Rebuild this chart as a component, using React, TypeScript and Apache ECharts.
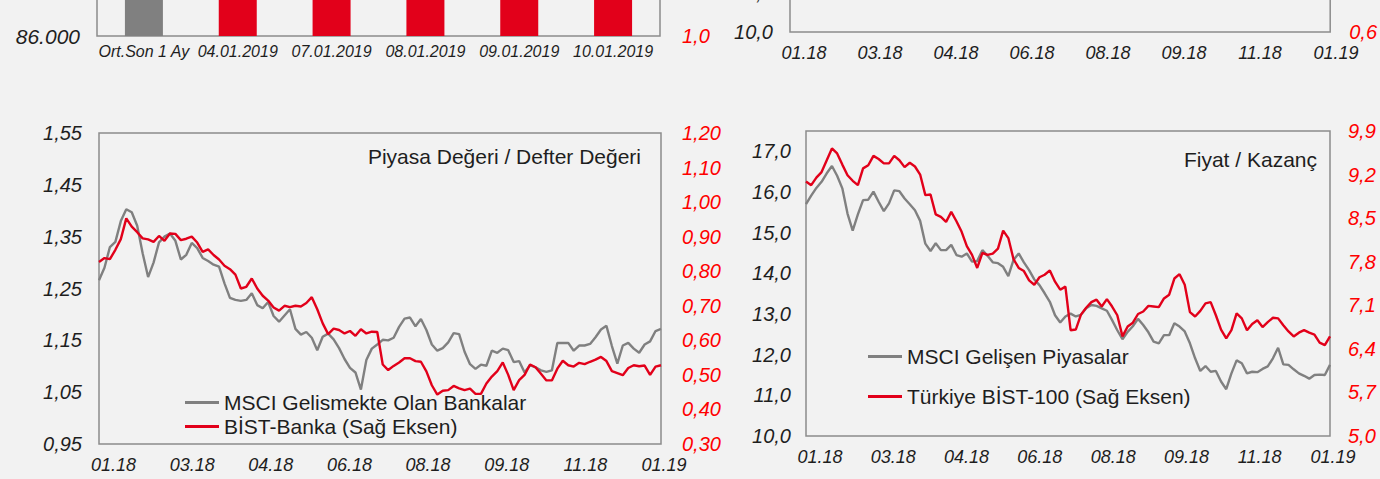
import React, { useEffect, useRef } from 'react';
import * as echarts from 'echarts';

// ---- data ----
const barCategories = ['Ort.Son 1 Ay', '04.01.2019', '07.01.2019', '08.01.2019', '09.01.2019', '10.01.2019'];
const barValues = [89200, 88300, 89500, 90900, 91400, 91900];

const monthTickLabels = ['01.18', '03.18', '04.18', '06.18', '08.18', '09.18', '11.18', '01.19'];

const msciBanksName = 'MSCI Gelismekte Olan Bankalar';
const bistBankName = 'BİST-Banka (Sağ Eksen)';
const msciEmName = 'MSCI Gelişen Piyasalar';
const bist100Name = 'Türkiye BİST-100 (Sağ Eksen)';

const msciBanks = [
  1.266, 1.29, 1.33, 1.34, 1.38, 1.403, 1.397, 1.371, 1.318, 1.272,
  1.30, 1.339, 1.35, 1.356, 1.342, 1.306, 1.315, 1.338, 1.328, 1.309,
  1.303, 1.296, 1.292, 1.26, 1.232, 1.228, 1.226, 1.228, 1.241, 1.218,
  1.212, 1.224, 1.197, 1.186, 1.198, 1.21, 1.172, 1.161, 1.166, 1.155,
  1.131, 1.157, 1.163, 1.152, 1.135, 1.114, 1.097, 1.088, 1.055, 1.112,
  1.134, 1.142, 1.151, 1.15, 1.155, 1.176, 1.192, 1.194, 1.177, 1.191,
  1.17, 1.142, 1.13, 1.135, 1.146, 1.164, 1.162, 1.128, 1.104, 1.095,
  1.103, 1.101, 1.13, 1.126, 1.134, 1.131, 1.108, 1.11, 1.088, 1.102,
  1.098, 1.092, 1.089, 1.092, 1.145, 1.145, 1.145, 1.13, 1.14, 1.14,
  1.143, 1.156, 1.171, 1.178, 1.139, 1.105, 1.14, 1.145, 1.134, 1.126,
  1.142, 1.148, 1.168, 1.172,
];

const bistBank = [
  0.827, 0.838, 0.835, 0.862, 0.893, 0.953, 0.929, 0.913, 0.895, 0.892,
  0.885, 0.902, 0.888, 0.909, 0.908, 0.89, 0.894, 0.9, 0.883, 0.856,
  0.863, 0.847, 0.834, 0.816, 0.806, 0.79, 0.75, 0.755, 0.779, 0.75,
  0.729, 0.715, 0.695, 0.686, 0.70, 0.696, 0.70, 0.698, 0.708, 0.725,
  0.69, 0.649, 0.618, 0.634, 0.63, 0.62, 0.627, 0.613, 0.632, 0.62,
  0.625, 0.624, 0.53, 0.514, 0.526, 0.536, 0.548, 0.548, 0.54, 0.538,
  0.51, 0.47, 0.443, 0.454, 0.456, 0.468, 0.461, 0.456, 0.46, 0.445,
  0.445, 0.475, 0.495, 0.511, 0.536, 0.50, 0.456, 0.485, 0.50, 0.53,
  0.522, 0.503, 0.484, 0.484, 0.518, 0.541, 0.528, 0.524, 0.535, 0.531,
  0.538, 0.544, 0.552, 0.54, 0.511, 0.505, 0.499, 0.52, 0.528, 0.525,
  0.527, 0.50, 0.524, 0.528,
];

const msciEm = [
  15.70, 15.91, 16.10, 16.25, 16.46, 16.64, 16.40, 16.09, 15.47, 15.05,
  15.45, 15.80, 15.81, 16.01, 15.76, 15.53, 15.72, 16.04, 16.02, 15.84,
  15.70, 15.55, 15.29, 14.73, 14.55, 14.74, 14.57, 14.57, 14.70, 14.45,
  14.41, 14.49, 14.29, 14.30, 14.57, 14.43, 14.27, 14.25, 14.16, 13.93,
  14.33, 14.49, 14.27, 14.08, 13.85, 13.71, 13.51, 13.30, 12.97, 12.79,
  12.94, 13.01, 12.94, 12.98, 13.14, 13.22, 13.20, 13.14, 13.08, 12.85,
  12.60, 12.38, 12.56, 12.70, 12.88, 12.73, 12.55, 12.32, 12.28, 12.48,
  12.48, 12.77, 12.69, 12.57, 12.28, 11.91, 11.60, 11.72, 11.58, 11.60,
  11.34, 11.15, 11.54, 11.86, 11.79, 11.54, 11.58, 11.57, 11.65, 11.71,
  11.91, 12.17, 11.76, 11.75, 11.64, 11.54, 11.48, 11.41, 11.50, 11.51,
  11.50, 11.75,
];

const bist100 = [
  9.09, 9.03, 9.15, 9.24, 9.43, 9.62, 9.54, 9.36, 9.19, 9.10,
  9.03, 9.30, 9.35, 9.50, 9.45, 9.38, 9.38, 9.50, 9.43, 9.32,
  9.39, 9.33, 9.20, 8.87, 8.88, 8.56, 8.52, 8.44, 8.60, 8.45,
  8.28, 8.05, 7.91, 7.70, 7.94, 7.91, 7.93, 8.01, 8.30, 8.18,
  7.84, 7.70, 7.65, 7.50, 7.43, 7.55, 7.59, 7.66, 7.48, 7.35,
  7.40, 6.70, 6.71, 6.95, 7.06, 7.15, 7.19, 7.08, 7.20, 7.08,
  6.94, 6.60, 6.76, 6.82, 6.96, 7.00, 7.09, 7.08, 7.07, 7.21,
  7.27, 7.53, 7.60, 7.43, 6.99, 6.92, 7.01, 7.13, 7.15, 6.94,
  6.71, 6.57, 6.70, 6.97, 6.89, 6.70, 6.80, 6.86, 6.75, 6.83,
  6.90, 6.89, 6.78, 6.68, 6.60, 6.66, 6.70, 6.66, 6.63, 6.50,
  6.46, 6.60,
];

// ---- styles ----
const FONT = "'Liberation Sans', Arial, sans-serif";
const GRAY = '#808080';
const RED = '#e2001a';
const LABEL_RED = '#ff0000';
const INK = '#1e1e1e';
const FRAME = '#8c8c8c';
const BG = '#f2f2f2';

// The upper pair of charts is only partly on the page: their canvas starts above it.
const TOP_OFFSET = 264;
const TOP_HEIGHT = 330;

const comma = (d: number) => (v: number) => v.toFixed(d).replace('.', ',');
const thousands = (v: number) => String(Math.round(v)).replace(/\B(?=(\d{3})+(?!\d))/g, '.');
// only the labels that reach into the page are written
const upTo = (limit: number, fmt: (v: number) => string) => (v: number) => (v <= limit + 1e-9 ? fmt(v) : '');

const frameGrid = (g: any) => ({ show: true, borderColor: FRAME, borderWidth: 1.5, backgroundColor: 'transparent', ...g });
const plainGrid = (g: any) => ({ show: false, ...g });

const tickLabel = (size: number, color: string, extra: any = {}) => ({
  fontFamily: FONT,
  fontStyle: 'italic',
  fontSize: size,
  color,
  ...extra,
});

const hiddenAxis = (gridIndex: number) => ({ gridIndex, show: false });

const valueAxis = (gridIndex: number, position: string, min: number, max: number, interval: number, label: any) => ({
  type: 'value',
  gridIndex,
  position,
  min,
  max,
  interval,
  axisLine: { show: false },
  axisTick: { show: false },
  splitLine: { show: false },
  axisLabel: label,
});

const indexCats = (n: number) => Array.from({ length: n }, (_, i) => String(i));

const monthLabelAxis = (gridIndex: number, margin: number) => ({
  type: 'category',
  gridIndex,
  data: monthTickLabels,
  boundaryGap: false,
  axisLine: { show: false },
  axisTick: { show: false },
  splitLine: { show: false },
  axisLabel: { ...tickLabel(18, INK), interval: 0, margin },
});

function topOption(): any {
  const t = (pageY: number) => pageY + TOP_OFFSET;
  return {
    animation: false,
    backgroundColor: 'transparent',
    textStyle: { fontFamily: FONT },
    grid: [
      frameGrid({ left: 97, width: 563, top: t(36) - 276, height: 276 }), // 0 bars
      frameGrid({ left: 790, width: 544, top: t(32) - 232, height: 232 }), // 1 right panel
      plainGrid({ left: 804, width: 532, top: t(32) - 232, height: 232 }), // 2 its month labels
    ],
    xAxis: [
      {
        type: 'category',
        gridIndex: 0,
        data: barCategories,
        axisLine: { show: false },
        axisTick: { show: false },
        axisLabel: { ...tickLabel(16, INK), interval: 0, margin: 7 },
      },
      { type: 'category', gridIndex: 1, data: monthTickLabels, show: false },
      monthLabelAxis(2, 12),
    ],
    yAxis: [
      valueAxis(0, 'left', 86000, 94000, 2000, { ...tickLabel(21, INK), margin: 17, formatter: upTo(86000, thousands) }),
      valueAxis(0, 'right', 1, 3, 0.5, { ...tickLabel(20, LABEL_RED), margin: 22, formatter: upTo(1, comma(1)) }),
      valueAxis(1, 'left', 10, 22, 2, { ...tickLabel(20, INK), margin: 17, formatter: upTo(12, comma(1)) }),
      valueAxis(1, 'right', 0.6, 1.2, 0.3, { ...tickLabel(20, LABEL_RED), margin: 19, formatter: upTo(0.6, comma(1)) }),
      hiddenAxis(2),
    ],
    series: [
      {
        type: 'bar',
        name: 'BIST-100',
        xAxisIndex: 0,
        yAxisIndex: 0,
        barWidth: 38,
        data: barValues,
        itemStyle: { color: (p: any) => (p.dataIndex === 0 ? GRAY : RED) },
      },
    ],
  };
}

function bottomOption(): any {
  const legendText = { fontFamily: FONT, fontSize: 21, color: INK };
  const titleText = { fontFamily: FONT, fontSize: 21, fontWeight: 'normal', color: INK };
  const line = (name: string, xi: number, yi: number, data: number[], color: string) => ({
    type: 'line',
    name,
    xAxisIndex: xi,
    yAxisIndex: yi,
    data,
    color,
    symbol: 'none',
    lineStyle: { color, width: 2.4 },
  });
  return {
    animation: false,
    backgroundColor: BG,
    textStyle: { fontFamily: FONT },
    title: [
      { text: 'Piyasa Değeri / Defter Değeri', right: 1380 - 641, top: 146, padding: 0, textStyle: titleText },
      { text: 'Fiyat / Kazanç', right: 1380 - 1317, top: 149, padding: 0, textStyle: titleText },
    ],
    legend: [
      {
        data: [msciBanksName, bistBankName],
        orient: 'vertical',
        left: 185,
        top: 392,
        padding: 0,
        itemGap: 3,
        itemWidth: 34,
        itemHeight: 3,
        icon: 'rect',
        selectedMode: false,
        textStyle: legendText,
      },
      {
        data: [msciEmName, bist100Name],
        orient: 'vertical',
        left: 868,
        top: 346,
        padding: 0,
        itemGap: 19,
        itemWidth: 34,
        itemHeight: 3,
        icon: 'rect',
        selectedMode: false,
        textStyle: legendText,
      },
    ],
    grid: [
      frameGrid({ left: 99, width: 562, top: 133, height: 311 }), // 0 PD/DD
      plainGrid({ left: 113.5, width: 550.5, top: 133, height: 311 }), // 1 PD/DD month labels
      frameGrid({ left: 806, width: 524, top: 131, height: 305 }), // 2 F/K
      plainGrid({ left: 820, width: 513, top: 131, height: 305 }), // 3 F/K month labels
    ],
    xAxis: [
      { type: 'category', gridIndex: 0, data: indexCats(msciBanks.length), boundaryGap: false, show: false },
      monthLabelAxis(1, 12),
      { type: 'category', gridIndex: 2, data: indexCats(msciEm.length), boundaryGap: false, show: false },
      monthLabelAxis(3, 12),
    ],
    yAxis: [
      valueAxis(0, 'left', 0.95, 1.55, 0.1, { ...tickLabel(20, INK), margin: 17, formatter: comma(2) }), // 0
      valueAxis(0, 'right', 0.3, 1.2, 0.1, { ...tickLabel(20, LABEL_RED), margin: 21, formatter: comma(2) }), // 1
      hiddenAxis(1), // 2
      valueAxis(2, 'left', 10, 17.5, 1, { ...tickLabel(20, INK), margin: 15, showMaxLabel: false, formatter: comma(1) }), // 3
      valueAxis(2, 'right', 5, 9.9, 0.7, { ...tickLabel(20, LABEL_RED), margin: 18, formatter: comma(1) }), // 4
      hiddenAxis(3), // 5
    ],
    series: [
      line(msciBanksName, 0, 0, msciBanks, GRAY),
      line(bistBankName, 0, 1, bistBank, RED),
      line(msciEmName, 2, 3, msciEm, GRAY),
      line(bist100Name, 2, 4, bist100, RED),
    ],
  };
}

export default function App() {
  const bottomRef = useRef<HTMLDivElement>(null);
  const topRef = useRef<HTMLDivElement>(null);

  useEffect(() => {
    if (!bottomRef.current || !topRef.current) return;
    const bottom = echarts.init(bottomRef.current, null, { renderer: 'svg' });
    const top = echarts.init(topRef.current, null, { renderer: 'svg' });
    bottom.setOption(bottomOption());
    top.setOption(topOption());
    return () => {
      top.dispose();
      bottom.dispose();
    };
  }, []);

  return (
    <div style={{ position: 'absolute', left: 0, top: 0, width: 1380, height: 479, overflow: 'hidden', background: BG }}>
      <div ref={bottomRef} style={{ position: 'absolute', left: 0, top: 0, width: 1380, height: 479 }} />
      <div
        ref={topRef}
        style={{ position: 'absolute', left: 0, top: -TOP_OFFSET, width: 1380, height: TOP_HEIGHT }}
      />
    </div>
  );
}
